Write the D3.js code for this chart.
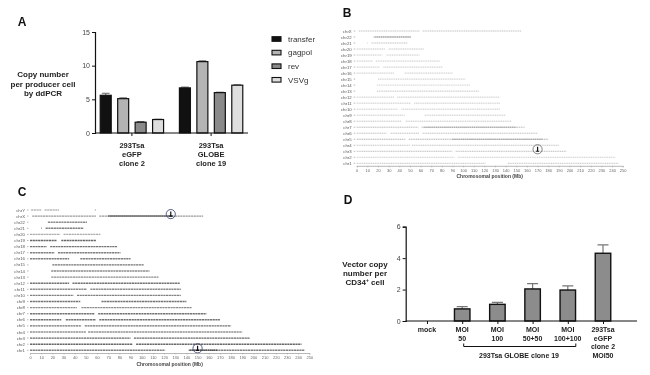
<!DOCTYPE html>
<html>
<head>
<meta charset="utf-8">
<script src="https://cdn.jsdelivr.net/npm/d3@7"></script>
<style>
  body { margin: 0; background: #fff; }
  svg { font-family: 'Liberation Sans', Arial, sans-serif; filter: blur(0.3px); }
</style>
</head>
<body>
<svg id="fig" width="650" height="375"></svg>
<script>
'use strict';

// ---- panel A: copy number per producer cell ----
const aGroups  = [ '293Tsa eGFP clone 2', '293Tsa GLOBE clone 19' ],
      aGroupLines = [ [ '293Tsa', 'eGFP', 'clone 2' ], [ '293Tsa', 'GLOBE', 'clone 19' ] ],
      aSeries  = [ 'transfer', 'gagpol', 'rev', 'VSVg' ],
      aValues  = [ [ 5.6, 5.1, 1.6, 2.0 ], [ 6.7, 10.6, 6.0, 7.1 ] ],
      aErrors  = [ [ 0.3, 0.12, 0.1, 0.05 ], [ 0.12, 0.12, 0.06, 0.06 ] ],
      aTicks   = [ 0, 5, 10, 15 ];

// ---- panel D: vector copy number per CD34+ cell ----
const dCats   = [ 'mock', 'MOI 50', 'MOI 100', 'MOI 50+50', 'MOI 100+100', 'eGFP' ],
      dLines  = [ [ 'mock' ], [ 'MOI', '50' ], [ 'MOI', '100' ], [ 'MOI', '50+50' ], [ 'MOI', '100+100' ], [ '293Tsa', 'eGFP', 'clone 2', 'MOI50' ] ],
      dValues = [ 0, 0.77, 1.06, 2.04, 1.97, 4.31 ],
      dErrors = [ 0, 0.14, 0.13, 0.34, 0.26, 0.53 ],
      dTicks  = [ 0, 2, 4, 6 ];

// ---- panels B / C: integration sites along chromosomes (Mb) ----
const chroms = [ 'chr1', 'chr2', 'chr3', 'chr4', 'chr5', 'chr6', 'chr7', 'chr8', 'chr9', 'chr10', 'chr11', 'chr12',
                 'chr13', 'chr14', 'chr15', 'chr16', 'chr17', 'chr18', 'chr19', 'chr20', 'chr21', 'chr22', 'chrX', 'chrY' ];
const chromArms = [
  [ [ 0, 121 ], [ 142, 246 ] ],   // chr1
  [ [ 0, 92 ], [ 95, 243 ] ],     // chr2
  [ [ 0, 90 ], [ 93, 197 ] ],     // chr3
  [ [ 0, 50 ], [ 52, 190 ] ],     // chr4
  [ [ 0, 46 ], [ 49, 180 ] ],     // chr5
  [ [ 0, 28 ], [ 32, 59 ], [ 62, 170 ] ], // chr6
  [ [ 0, 58 ], [ 61, 158 ] ],     // chr7
  [ [ 0, 42 ], [ 46, 145 ] ],     // chr8
  [ [ 0, 45 ], [ 64, 140 ] ],     // chr9
  [ [ 0, 39 ], [ 42, 135 ] ],     // chr10
  [ [ 0, 51 ], [ 54, 135 ] ],     // chr11
  [ [ 0, 35 ], [ 38, 134 ] ],     // chr12
  [ [ 19, 115 ] ],                // chr13
  [ [ 19, 107 ] ],                // chr14
  [ [ 20, 102 ] ],                // chr15
  [ [ 0, 35 ], [ 45, 90 ] ],      // chr16
  [ [ 0, 22 ], [ 25, 81 ] ],      // chr17
  [ [ 0, 15 ], [ 18, 78 ] ],      // chr18
  [ [ 0, 24 ], [ 28, 59 ] ],      // chr19
  [ [ 0, 27 ], [ 30, 63 ] ],      // chr20
  [ [ 10, 10.6 ], [ 14, 48 ] ],   // chr21
  [ [ 16, 51 ] ],                 // chr22
  [ [ 2, 59 ], [ 62, 155 ] ],     // chrX
  [ [ 1, 10 ], [ 13, 26 ], [ 58, 59 ] ] // chrY
];
// darkness of each row, per panel
const densityB = [ .45, .35, .55, .45, .7, .5, .6, .45, .4, .4, .4, .4, .45, .3, .4, .4, .4, .4, .4, .45, .5, .85, .5, 0 ];
const densityC = [ .7, .9, .9, .55, .8, .8, .8, .6, .8, .7, .6, .8, .6, .6, .8, .7, .7, .8, .9, .35, .7, .6, .5, .25 ];
// dense clusters [chrom, start, end]
const clustersB = [ [ 'chr22', 17, 51 ], [ 'chr5', 90, 175 ], [ 'chr7', 63, 150 ] ];
const clustersC = [ [ 'chrX', 70, 128 ], [ 'chr1', 143, 168 ] ];
// circled hot spots [chrom, Mb]
const hotB = [ [ 'chr3', 170 ] ];
const hotC = [ [ 'chrX', 126 ], [ 'chr1', 150 ] ];
const posTicks = d3.range( 0, 251, 10 );

const svg = d3.select( '#fig' );

// panel letters
[ [ 'A', 22, 26 ], [ 'B', 347, 17 ], [ 'C', 22, 196 ], [ 'D', 348, 204 ] ].forEach( (l) => {
  svg.append( 'text' )
     .attr( 'x', l[1] ).attr( 'y', l[2] )
     .attr( 'text-anchor', 'middle' )
     .style( 'font-size', '12px' ).style( 'font-weight', 'bold' ).style( 'fill', '#111' )
     .text( l[0] );
});

// multi-line centered label
function multiLine( g, lines, x, y, lh, size ) {
  const t = g.append( 'text' )
             .attr( 'text-anchor', 'middle' )
             .style( 'font-size', size + 'px' ).style( 'font-weight', 'bold' ).style( 'fill', '#222' );
  lines.forEach( (s, i) => {
    t.append( 'tspan' ).attr( 'x', x ).attr( 'y', y + i * lh ).text( s );
  });
  return t;
}

function styleAxis( g, size ) {
  g.select( '.domain' ).attr( 'stroke', '#111' ).attr( 'stroke-width', 1.2 );
  g.selectAll( '.tick line' ).attr( 'stroke', '#111' ).attr( 'stroke-width', 1 );
  g.selectAll( '.tick text' ).style( 'font-size', size + 'px' ).style( 'fill', '#444' ).style( 'font-family', null );
}

// ================= A =================
(function() {
  const g = svg.append( 'g' ).attr( 'class', 'panelA' );
  const y  = d3.scaleLinear().domain( [ 0, 15 ] ).range( [ 133, 32 ] ),
        x0 = d3.scaleBand().domain( aGroups ).range( [ 95, 248 ] ).paddingInner( 0.2 ).paddingOuter( 0.066 ),
        x1 = d3.scaleBand().domain( aSeries ).range( [ 0, x0.bandwidth() ] ).paddingInner( 0.37 ),
        fill = d3.scaleOrdinal().domain( aSeries ).range( [ '#111', '#b4b4b4', '#8a8a8a', '#dedede' ] );

  g.append( 'g' )
     .attr( 'transform', 'translate(95,0)' )
     .call( d3.axisLeft( y ).tickValues( aTicks ).tickFormat( d3.format( 'd' ) ).tickSize( 3 ).tickPadding( 2 ) )
     .call( (s) => styleAxis( s, 7 ) );

  const groups = g.selectAll( '.grp' )
                   .data( aGroups )
                 .enter().append( 'g' )
                   .attr( 'transform', (d) => `translate(${x0( d )},0)` );

  groups.selectAll( '.err' )
          .data( (d, gi) => aSeries.map( (s, i) => ({ s, v: aValues[gi][i], e: aErrors[gi][i] }) ) )
        .enter().append( 'path' )
          .attr( 'd', (d) => {
            const cx = x1( d.s ) + x1.bandwidth() / 2, w = x1.bandwidth() * 0.35;
            return `M${cx},${y( d.v )}V${y( d.v + d.e )}M${cx - w},${y( d.v + d.e )}H${cx + w}`;
          })
          .attr( 'stroke', '#666' ).attr( 'stroke-width', 1 ).attr( 'fill', 'none' );

  groups.selectAll( '.bar' )
          .data( (d, gi) => aSeries.map( (s, i) => ({ s, v: aValues[gi][i] }) ) )
        .enter().append( 'rect' )
          .attr( 'x', (d) => x1( d.s ) )
          .attr( 'y', (d) => y( d.v ) )
          .attr( 'width', x1.bandwidth() )
          .attr( 'height', (d) => y( 0 ) - y( d.v ) )
          .attr( 'fill', (d) => fill( d.s ) )
          .attr( 'stroke', '#111' ).attr( 'stroke-width', 1.2 );

  g.append( 'g' )
     .attr( 'transform', 'translate(0,133)' )
     .call( d3.axisBottom( x0 ).tickSize( 3 ).tickFormat( '' ) )
     .call( (s) => styleAxis( s, 7 ) )
     .call( (s) => s.select( '.domain' ).attr( 'd', 'M95,0H248' ) );

  aGroupLines.forEach( (lines, i) => multiLine( g, lines, x0( aGroups[i] ) + x0.bandwidth() / 2, 148, 9, 7.5 ) );
  multiLine( g, [ 'Copy number', 'per producer cell', 'by ddPCR' ], 43, 77, 9.5, 8 );

  // legend
  const leg = g.selectAll( '.leg' )
                 .data( aSeries )
               .enter().append( 'g' )
                 .attr( 'transform', (d, i) => `translate(272,${39 + i * 13.6})` );
  leg.append( 'rect' )
       .attr( 'x', 0 ).attr( 'y', -2.3 ).attr( 'width', 9 ).attr( 'height', 4.6 )
       .attr( 'fill', (d) => fill( d ) ).attr( 'stroke', '#111' ).attr( 'stroke-width', 1.1 );
  leg.append( 'text' )
       .attr( 'x', 16 ).attr( 'dy', '0.35em' )
       .style( 'font-size', '8px' ).style( 'fill', '#333' )
       .text( (d) => d );
})();

// ================= B / C =================
function chromPanel( opt ) {
  const g = svg.append( 'g' ).attr( 'class', opt.cls );
  const names = chroms.filter( (c) => opt.rows.includes( c ) ).reverse();
  const x = d3.scaleLinear().domain( [ 0, 250 ] ).range( opt.xRange ),
        y = d3.scalePoint().domain( names ).range( opt.yRange ),
        shade = d3.interpolateRgb( opt.dark, opt.pale );

  // row labels
  g.selectAll( '.lab' )
     .data( names )
   .enter().append( 'text' )
     .attr( 'x', opt.xRange[0] - 5 ).attr( 'y', (d) => y( d ) ).attr( 'dy', '0.35em' )
     .attr( 'text-anchor', 'end' )
     .style( 'font-size', '4.3px' ).style( 'fill', '#555' )
     .text( (d) => d );
  g.selectAll( '.rt' )
     .data( names )
   .enter().append( 'line' )
     .attr( 'x1', opt.xRange[0] - 3 ).attr( 'x2', opt.xRange[0] - 1.5 )
     .attr( 'y1', (d) => y( d ) ).attr( 'y2', (d) => y( d ) )
     .attr( 'stroke', '#888' ).attr( 'stroke-width', 0.6 );

  // chromosome arms
  const segs = [];
  names.forEach( (c) => {
    const i = chroms.indexOf( c );
    chromArms[i].forEach( (a) => segs.push( { c, a, k: opt.density[i] } ) );
  });
  g.selectAll( '.arm' )
     .data( segs )
   .enter().append( 'line' )
     .attr( 'x1', (d) => x( d.a[0] ) ).attr( 'x2', (d) => x( d.a[1] ) )
     .attr( 'y1', (d) => y( d.c ) ).attr( 'y2', (d) => y( d.c ) )
     .attr( 'stroke', (d) => shade( 1 - d.k ) )
     .attr( 'stroke-width', opt.sw )
     .attr( 'stroke-dasharray', opt.dash );

  g.selectAll( '.cl' )
     .data( opt.clusters )
   .enter().append( 'line' )
     .attr( 'x1', (d) => x( d[1] ) ).attr( 'x2', (d) => x( d[2] ) )
     .attr( 'y1', (d) => y( d[0] ) ).attr( 'y2', (d) => y( d[0] ) )
     .attr( 'stroke', opt.clusterColor ).attr( 'stroke-width', opt.sw * 1.1 )
     .attr( 'stroke-dasharray', '1.5 0.5' );

  // hot spots
  const hot = g.selectAll( '.hot' )
                 .data( opt.hot )
               .enter().append( 'g' )
                 .attr( 'transform', (d) => `translate(${x( d[1] )},${y( d[0] ) - 2})` );
  hot.append( 'path' )
       .attr( 'd', 'M-1.5,2H1.5M0,2V-2.5' )
       .attr( 'stroke', '#111' ).attr( 'stroke-width', 1.2 );
  hot.append( 'circle' )
       .attr( 'r', 4.6 ).attr( 'fill', 'none' )
       .attr( 'stroke', opt.circle ).attr( 'stroke-width', 0.8 );

  // position axis
  const ax = g.append( 'g' )
                .attr( 'transform', `translate(0,${opt.axisY})` )
                .call( d3.axisBottom( x ).tickValues( posTicks ).tickSize( 1.5 ).tickPadding( 1.5 ) );
  ax.select( '.domain' ).attr( 'stroke', '#999' ).attr( 'stroke-width', 0.7 );
  ax.selectAll( '.tick line' ).attr( 'stroke', '#999' ).attr( 'stroke-width', 0.5 );
  ax.selectAll( '.tick text' ).style( 'font-size', '4px' ).style( 'fill', '#666' ).style( 'font-family', null );
  g.append( 'text' )
     .attr( 'x', ( opt.xRange[0] + opt.xRange[1] ) / 2 ).attr( 'y', opt.axisY + 12.5 )
     .attr( 'text-anchor', 'middle' )
     .style( 'font-size', '5px' ).style( 'font-weight', 'bold' ).style( 'fill', '#444' )
     .text( 'Chromosomal position (Mb)' );
}

chromPanel({
  cls: 'panelB', rows: chroms.slice( 0, 23 ),
  xRange: [ 356.7, 622.7 ], yRange: [ 31, 163.3 ], axisY: 165.8,
  density: densityB, clusters: clustersB, hot: hotB,
  sw: 0.8, dash: '1.2 0.6', dark: '#7a7a7a', pale: '#e4e4e4', clusterColor: '#9a9a9a', circle: '#666'
});

chromPanel({
  cls: 'panelC', rows: chroms,
  xRange: [ 30, 309.3 ], yRange: [ 210, 350.3 ], axisY: 353,
  density: densityC, clusters: clustersC, hot: hotC,
  sw: 1.4, dash: '2.2 0.5', dark: '#5a5a5a', pale: '#d8d8d8', clusterColor: '#555', circle: '#2d3b6b'
});

// ================= D =================
(function() {
  const g = svg.append( 'g' ).attr( 'class', 'panelD' );
  const y = d3.scaleLinear().domain( [ 0, 6 ] ).range( [ 321, 226.7 ] ),
        x = d3.scalePoint().domain( dCats ).range( [ 427, 603 ] ),
        bw = 15.5;

  g.append( 'g' )
     .attr( 'transform', 'translate(405.7,0)' )
     .call( d3.axisLeft( y ).tickValues( dTicks ).tickFormat( d3.format( 'd' ) ).tickSize( 3 ).tickPadding( 2 ) )
     .call( (s) => styleAxis( s, 7 ) );

  const err = dCats.map( (c, i) => ({ c, v: dValues[i], e: dErrors[i] }) ).filter( (d) => d.v > 0 );
  g.selectAll( '.err' )
     .data( err )
   .enter().append( 'path' )
     .attr( 'd', (d) => `M${x( d.c )},${y( d.v )}V${y( d.v + d.e )}M${x( d.c ) - 5.5},${y( d.v + d.e )}H${x( d.c ) + 5.5}` )
     .attr( 'stroke', '#777' ).attr( 'stroke-width', 1.2 ).attr( 'fill', 'none' );

  g.selectAll( '.bar' )
     .data( err )
   .enter().append( 'rect' )
     .attr( 'x', (d) => x( d.c ) - bw / 2 )
     .attr( 'y', (d) => y( d.v ) )
     .attr( 'width', bw )
     .attr( 'height', (d) => y( 0 ) - y( d.v ) )
     .attr( 'fill', '#8c8c8c' )
     .attr( 'stroke', '#111' ).attr( 'stroke-width', 1.4 );

  g.append( 'g' )
     .attr( 'transform', 'translate(0,321)' )
     .call( d3.axisBottom( x ).tickSize( 3 ).tickFormat( '' ) )
     .call( (s) => styleAxis( s, 7 ) )
     .call( (s) => s.select( '.domain' ).attr( 'd', 'M405.7,0H637' ) );

  dLines.forEach( (lines, i) => multiLine( g, lines, x( dCats[i] ), 332, 8.7, 7 ) );

  // bracket under the GLOBE clone 19 conditions
  g.append( 'path' )
     .attr( 'd', `M${x( dCats[1] ) + 1.5},343.5V346.5H${x( dCats[4] ) + 8}V343.5` )
     .attr( 'stroke', '#111' ).attr( 'stroke-width', 1 ).attr( 'fill', 'none' );
  multiLine( g, [ '293Tsa GLOBE clone 19' ], ( x( dCats[1] ) + x( dCats[4] ) ) / 2 + 4, 358, 0, 7 );

  multiLine( g, [ 'Vector copy', 'number per' ], 365, 267, 9, 8 );
  const t = g.append( 'text' )
             .attr( 'x', 365 ).attr( 'y', 285 ).attr( 'text-anchor', 'middle' )
             .style( 'font-size', '8px' ).style( 'font-weight', 'bold' ).style( 'fill', '#222' );
  t.append( 'tspan' ).text( 'CD34' );
  t.append( 'tspan' ).attr( 'dy', -3 ).style( 'font-size', '5px' ).text( '+' );
  t.append( 'tspan' ).attr( 'dy', 3 ).text( ' cell' );
})();
</script>
</body>
</html>
